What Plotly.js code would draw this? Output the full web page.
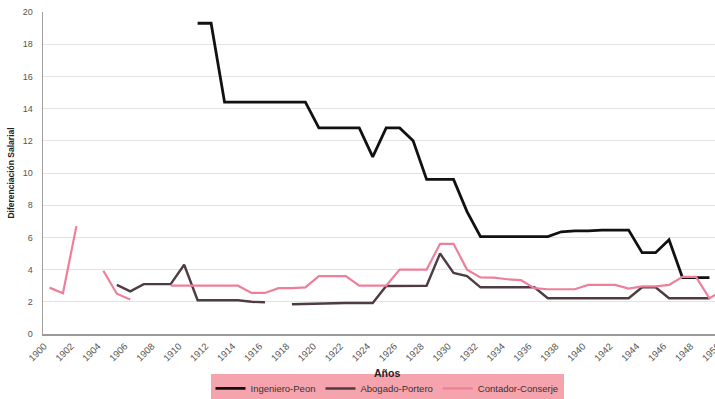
<!DOCTYPE html>
<html>
<head>
<meta charset="utf-8">
<script src="https://cdn.plot.ly/plotly-3.0.1.min.js"></script>
<style>html,body{margin:0;padding:0;background:#fff;overflow:hidden;width:715px;height:399px;}#chart{width:745px;height:399px;}</style>
</head>
<body>
<div id="chart"></div>
<script>
const years = [];
for (let y = 1900; y <= 1951; y++) years.push(y);

const seriesNames = ["Ingeniero-Peon", "Abogado-Portero", "Contador-Conserje"];

// 1900 ... 1951
const ingenieroPeon = [
  null, null, null, null, null, null, null, null, null, null,   // 1900-1909
  null, null, 19.3, 19.3, 14.4, 14.4, 14.4, 14.4, 14.4, 14.4,   // 1910-1919
  14.4, 12.8, 12.8, 12.8, 12.8, 11.0, 12.8, 12.8, 12.0, 9.6,    // 1920-1929
  9.6, 9.6, 7.6, 6.05, 6.05, 6.05, 6.05, 6.05, 6.05, 6.35,      // 1930-1939
  6.4, 6.4, 6.45, 6.45, 6.45, 5.05, 5.05, 5.85, 3.5, 3.5,       // 1940-1949
  3.5, null                                                     // 1950-1951
];

const abogadoPortero = [
  null, null, null, null, null, null, 3.05, 2.65, 3.1, 3.1,     // 1900-1909
  3.1, 4.3, 2.1, 2.1, 2.1, 2.1, 2.0, 1.97, null, 1.85,          // 1910-1919
  1.87, 1.93, 1.93, 1.93, 1.93, 1.93, 2.98, 2.98, 2.98, 3.0,    // 1920-1929
  5.0, 3.8, 3.6, 2.9, 2.9, 2.9, 2.9, 2.9, 2.22, 2.22,           // 1930-1939
  2.22, 2.22, 2.22, 2.22, 2.22, 2.9, 2.9, 2.22, 2.22, 2.22,     // 1940-1949
  2.22, null                                                    // 1950-1951
];

const contadorConserje = [
  null, 2.88, 2.53, 6.7, null, 3.93, 2.5, 2.15, null, null,     // 1900-1909
  3.0, 3.0, 3.0, 3.0, 3.0, 3.0, 2.55, 2.55, 2.85, 2.85,         // 1910-1919
  2.9, 3.6, 3.6, 3.6, 3.0, 3.0, 3.0, 4.0, 4.0, 4.0,             // 1920-1929
  5.6, 5.6, 4.0, 3.52, 3.5, 3.4, 3.35, 2.85, 2.78, 2.78,        // 1930-1939
  2.78, 3.05, 3.05, 3.05, 2.82, 2.96, 2.96, 3.05, 3.55, 3.55,   // 1940-1949
  2.22, 2.7                                                     // 1950-1951
];

const xTickVals = [];
for (let y = 1900; y <= 1950; y += 2) xTickVals.push(y);
const xTickText = xTickVals.map(String);
const yTickVals = [0, 2, 4, 6, 8, 10, 12, 14, 16, 18, 20];

const traces = [
  {x: years, y: ingenieroPeon, name: seriesNames[0], type: 'scatter', mode: 'lines',
   line: {color: '#111111', width: 2.8}, connectgaps: false},
  {x: years, y: abogadoPortero, name: seriesNames[1], type: 'scatter', mode: 'lines',
   line: {color: '#4e3c42', width: 2.4}, connectgaps: false},
  {x: years, y: contadorConserje, name: seriesNames[2], type: 'scatter', mode: 'lines',
   line: {color: '#ee7f9b', width: 2.2}, connectgaps: false},
  // carrier for the tick-label axis (no visible marks)
  {x: [1925], y: [null], xaxis: 'x2', yaxis: 'y', type: 'scatter', mode: 'lines',
   showlegend: false, hoverinfo: 'skip'}
];

const xStart = 1900.52, xEnd = 1951.6, labelShift = 0.6;

const layout = {
  width: 745, height: 399,
  margin: {l: 43, r: 14, t: 12, b: 65, autoexpand: false},
  paper_bgcolor: '#ffffff', plot_bgcolor: '#ffffff',
  font: {family: 'Liberation Sans, Arial, sans-serif', color: '#444'},
  showlegend: true,
  legend: {
    orientation: 'h', x: 0.5, xanchor: 'center', y: -0.124, yanchor: 'top',
    bgcolor: '#f5a4ae', font: {size: 9.5, color: '#333'},
    traceorder: 'normal', itemwidth: 30, tracegroupgap: 0
  },
  xaxis: {
    range: [xStart, xEnd], showticklabels: false,
    showgrid: false, zeroline: false, automargin: false,
    showline: true, linecolor: '#9a9a9a', linewidth: 1.5, ticks: ''
  },
  xaxis2: {
    overlaying: 'x', anchor: 'y', side: 'bottom',
    range: [xStart - labelShift, xEnd - labelShift],
    tickmode: 'array', tickvals: xTickVals, ticktext: xTickText,
    tickangle: -45, tickfont: {size: 9.5, color: '#555'}, ticklabelstandoff: 4,
    showgrid: false, zeroline: false, showline: false, ticks: '', automargin: false
  },
  yaxis: {
    range: [0, 20], tickmode: 'array', tickvals: yTickVals, automargin: false,
    tickfont: {size: 9, color: '#555'}, ticklabelstandoff: 7,
    showgrid: true, gridcolor: '#e2e2e2', gridwidth: 1,
    zeroline: false, showline: true, linecolor: '#a0a0a0', linewidth: 1.5, ticks: '',
    title: {text: 'Diferenciación Salarial', font: {size: 8.5, color: '#222', weight: 'bold'}, standoff: 6}
  },
  annotations: [
    {text: '<b>Años</b>', xref: 'paper', yref: 'paper', x: 0.5, y: -0.097,
     xanchor: 'center', yanchor: 'top', showarrow: false, font: {size: 10.5, color: '#222'}}
  ]
};

Plotly.newPlot('chart', traces, layout, {displayModeBar: false, staticPlot: true});
</script>
</body>
</html>
